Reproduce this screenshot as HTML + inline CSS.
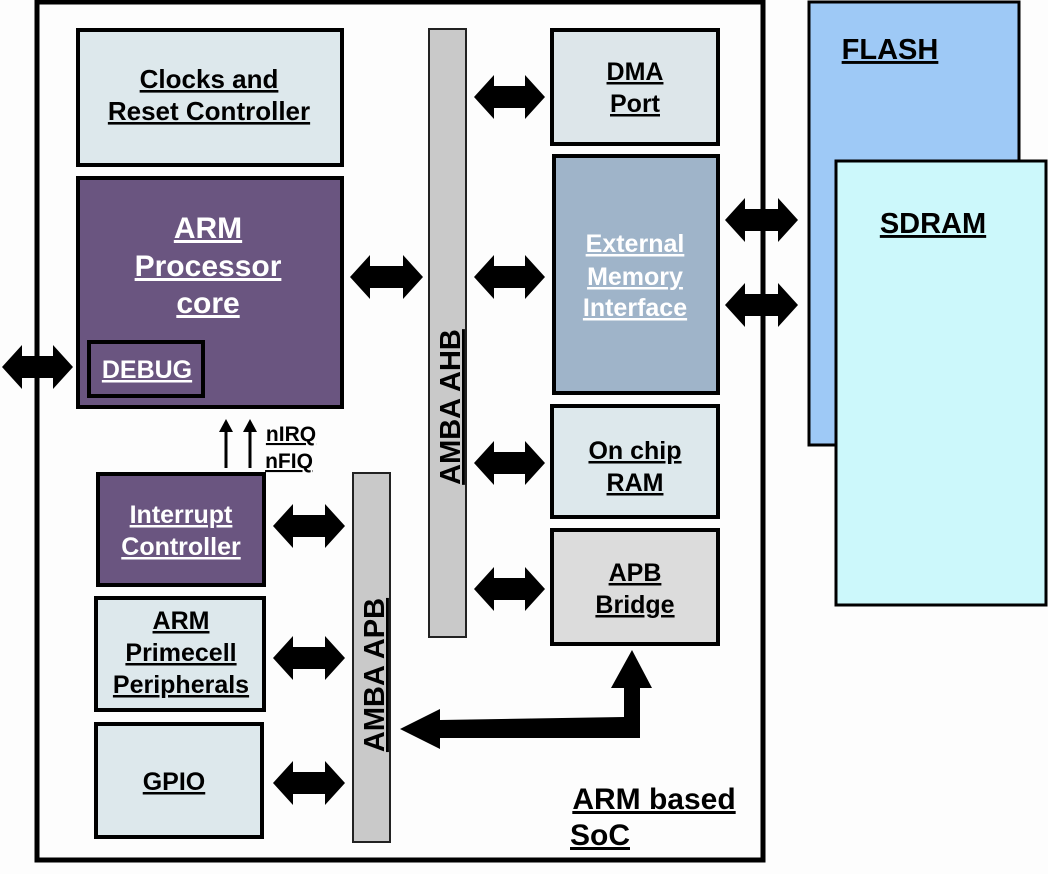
<!DOCTYPE html>
<html><head><meta charset="utf-8"><style>
html,body{margin:0;padding:0;background:#fff;}
svg{display:block}
text{font-family:"Liberation Sans",sans-serif;font-weight:bold;text-decoration:underline;text-anchor:middle}
</style></head><body>
<svg width="1048" height="874" viewBox="0 0 1048 874" xmlns="http://www.w3.org/2000/svg">
<rect x="0" y="0" width="1048" height="874" fill="#fdfdfd"/>
<rect x="809" y="2" width="210" height="443" fill="#9ec9f6" stroke="#000" stroke-width="3"/>
<text x="890" y="59" font-size="29" fill="#000">FLASH</text>
<rect x="836" y="161" width="210" height="444" fill="#ccf8fb" stroke="#000" stroke-width="3"/>
<text x="933" y="233" font-size="29" fill="#000">SDRAM</text>
<rect x="37" y="2" width="726" height="858" fill="#fdfdfd" stroke="#000" stroke-width="5"/>
<rect x="429" y="29" width="37" height="608" fill="#c9c9c9" stroke="#222" stroke-width="2"/>
<text transform="translate(460,407) rotate(-90)" font-size="29" fill="#000">AMBA AHB</text>
<rect x="353" y="473" width="37" height="369" fill="#c9c9c9" stroke="#222" stroke-width="2"/>
<text transform="translate(384,675) rotate(-90)" font-size="29" fill="#000">AMBA APB</text>
<rect x="78" y="30" width="264" height="135" fill="#dde8ec" stroke="#000" stroke-width="4"/>
<text x="209" y="88" font-size="26" fill="#000">Clocks  and</text>
<text x="209" y="120" font-size="26" fill="#000">Reset Controller</text>
<rect x="78" y="178" width="264" height="229" fill="#6a5580" stroke="#000" stroke-width="4"/>
<text x="208" y="238" font-size="30" fill="#fff">ARM</text>
<text x="208" y="276" font-size="30" fill="#fff">Processor</text>
<text x="208" y="313" font-size="30" fill="#fff">core</text>
<rect x="89" y="342" width="114" height="54" fill="#6a5580" stroke="#000" stroke-width="4"/>
<text x="147" y="378" font-size="25" fill="#fff">DEBUG</text>
<rect x="552" y="30" width="166" height="114" fill="#dde6ea" stroke="#000" stroke-width="4"/>
<text x="635" y="80" font-size="25" fill="#000">DMA</text>
<text x="635" y="112" font-size="25" fill="#000">Port</text>
<rect x="554" y="156" width="164" height="237" fill="#9fb4c9" stroke="#000" stroke-width="4"/>
<text x="635" y="252" font-size="25" fill="#fff">External</text>
<text x="635" y="285" font-size="25" fill="#fff">Memory</text>
<text x="635" y="316" font-size="25" fill="#fff">Interface</text>
<rect x="552" y="406" width="166" height="111" fill="#dde8ec" stroke="#000" stroke-width="4"/>
<text x="635" y="459" font-size="25" fill="#000">On chip</text>
<text x="635" y="491" font-size="25" fill="#000">RAM</text>
<rect x="552" y="530" width="166" height="114" fill="#dcdcdc" stroke="#000" stroke-width="4"/>
<text x="635" y="581" font-size="25" fill="#000">APB</text>
<text x="635" y="613" font-size="25" fill="#000">Bridge</text>
<rect x="98" y="474" width="166" height="111" fill="#6a5580" stroke="#000" stroke-width="4"/>
<text x="181" y="523" font-size="25" fill="#fff">Interrupt</text>
<text x="181" y="555" font-size="25" fill="#fff">Controller</text>
<rect x="96" y="598" width="168" height="112" fill="#dde8ec" stroke="#000" stroke-width="4"/>
<text x="181" y="629" font-size="25" fill="#000">ARM</text>
<text x="181" y="661" font-size="25" fill="#000">Primecell</text>
<text x="181" y="693" font-size="25" fill="#000">Peripherals</text>
<rect x="96" y="724" width="166" height="113" fill="#dde8ec" stroke="#000" stroke-width="4"/>
<text x="174" y="790" font-size="25" fill="#000">GPIO</text>
<g fill="#000">
<path d="M2,367 L22,345 L22,356 L53,356 L53,345 L73,367 L53,389 L53,378 L22,378 L22,389 Z"/>
<path d="M350,277 L370,255 L370,266 L403,266 L403,255 L423,277 L403,299 L403,288 L370,288 L370,299 Z"/>
<path d="M474,97 L494,75 L494,86 L525,86 L525,75 L545,97 L525,119 L525,108 L494,108 L494,119 Z"/>
<path d="M474,277 L494,255 L494,266 L525,266 L525,255 L545,277 L525,299 L525,288 L494,288 L494,299 Z"/>
<path d="M474,463 L494,441 L494,452 L525,452 L525,441 L545,463 L525,485 L525,474 L494,474 L494,485 Z"/>
<path d="M474,589 L494,567 L494,578 L525,578 L525,567 L545,589 L525,611 L525,600 L494,600 L494,611 Z"/>
<path d="M725,220 L745,198 L745,209 L778,209 L778,198 L798,220 L778,242 L778,231 L745,231 L745,242 Z"/>
<path d="M725,305 L745,283 L745,294 L778,294 L778,283 L798,305 L778,327 L778,316 L745,316 L745,327 Z"/>
<path d="M273,526 L293,504 L293,515 L325,515 L325,504 L345,526 L325,548 L325,537 L293,537 L293,548 Z"/>
<path d="M273,658 L293,636 L293,647 L325,647 L325,636 L345,658 L325,680 L325,669 L293,669 L293,680 Z"/>
<path d="M273,783 L293,761 L293,772 L325,772 L325,761 L345,783 L325,805 L325,794 L293,794 L293,805 Z"/>
<path d="M400,729 L440,709 L440,720 L624,717 L624,688 L611,688 L632,650 L652,688 L640,688 L640,738 L440,738 L440,749 Z"/>
</g>
<g stroke="#000" stroke-width="3" fill="none"><line x1="226" y1="468" x2="226" y2="428"/><line x1="250" y1="468" x2="250" y2="428"/></g>
<path d="M219,432 L226,419 L233,432 Z M243,432 L250,419 L257,432 Z" fill="#000"/>
<text x="291" y="441" font-size="21" fill="#000">nIRQ</text>
<text x="289" y="468" font-size="21" fill="#000">nFIQ</text>
<text x="654" y="809" font-size="30" fill="#000">ARM based</text>
<text x="600" y="845" font-size="30" fill="#000">SoC</text>
</svg>
</body></html>
